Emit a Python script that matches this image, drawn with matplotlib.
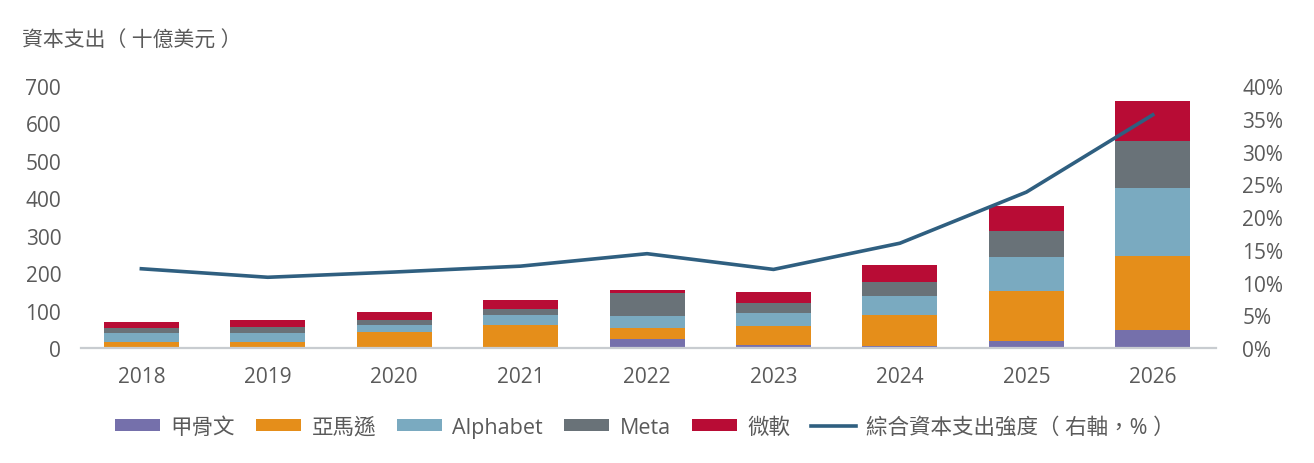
import matplotlib.pyplot as plt
import numpy as np

plt.rcParams['font.family'] = ['Open Sans', 'Noto Sans CJK TC', 'DejaVu Sans']

# data (billions USD)
years = ['2018', '2019', '2020', '2021', '2022', '2023', '2024', '2025', '2026']
oracle = [1, 1, 1, 2, 24, 7, 6, 20, 49]
amazon = [15, 16, 41, 60, 29, 53, 81, 133, 198]
alphabet = [24, 23, 20, 26, 33, 34, 53, 89, 180]
meta = [13, 17, 14, 17, 61, 26, 37, 71, 125]
microsoft = [16, 17, 20, 24, 8, 29, 46, 66, 107]
intensity = [12.1, 10.8, 11.6, 12.5, 14.4, 12.0, 16.0, 23.8, 35.6]

names = ['甲骨文', '亞馬遜', 'Alphabet', 'Meta', '微軟']
line_name = '綜合資本支出強度（ 右軸，% ）'
colors = ['#7570ab', '#e58e1a', '#7aaac0', '#697278', '#b80c35']
line_color = '#2f5f80'
text_color = '#5a5a5a'

fig = plt.figure(figsize=(13.14, 4.64), dpi=100)
ax = fig.add_axes([0.0614, 0.2478, 0.864, 0.5647])
x = np.arange(len(years))

bottom = np.zeros(len(years))
handles = []
for vals, name, c in zip([oracle, amazon, alphabet, meta, microsoft], names, colors):
    b = ax.bar(x, vals, 0.593, bottom=bottom, color=c, label=name)
    handles.append(b)
    bottom += np.array(vals)

ax.set_xlim(-0.48, 8.5)
ax.set_ylim(0, 700)
ax.set_yticks(np.arange(0, 701, 100))
ax.set_xticks(x)
ax.set_xticklabels(years)
for s in ['top', 'right', 'left']:
    ax.spines[s].set_visible(False)
ax.spines['bottom'].set_color('#c8ccd0')
ax.spines['bottom'].set_linewidth(1.6)
ax.tick_params(axis='both', length=0, labelsize=15, colors=text_color)
ax.tick_params(axis='y', pad=14)
ax.tick_params(axis='x', pad=13)

ax2 = ax.twinx()
ln, = ax2.plot(x, intensity, color=line_color, linewidth=2.6)
ax2.set_ylim(0, 40)
ax2.set_yticks(np.arange(0, 41, 5))
ax2.set_yticklabels([f'{v}%' for v in range(0, 41, 5)])
for s in ax2.spines.values():
    s.set_visible(False)
ax2.tick_params(axis='y', length=0, labelsize=15, colors=text_color, pad=19)

fig.text(0.017, 0.912, '資本支出（ 十億美元 ）', fontsize=15, color=text_color, va='center')

leg = fig.legend(handles + [ln], names + [line_name], loc='center',
                 bbox_to_anchor=(0.491, 0.077), ncol=6, frameon=False,
                 fontsize=15.5, handlelength=2.1, handleheight=0.45,
                 columnspacing=0.98, handletextpad=0.47)
for t in leg.get_texts():
    t.set_color(text_color)

fig.savefig('out.png', dpi=100)
